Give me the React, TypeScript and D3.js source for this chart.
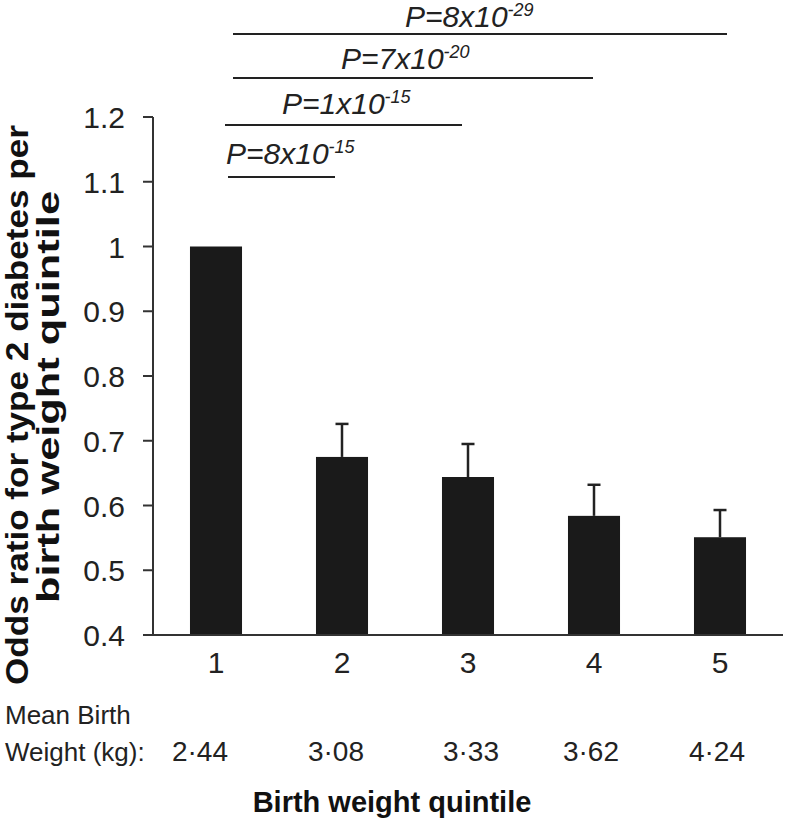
import React from "react";
import * as d3 from "d3";

const quintiles = ["1", "2", "3", "4", "5"];
const oddsRatios = [1.0, 0.675, 0.644, 0.584, 0.551];
const errorUpper = [null, 0.726, 0.695, 0.632, 0.593];
const meanBirthWeights = ["2·44", "3·08", "3·33", "3·62", "4·24"];
const yTicks = [0.4, 0.5, 0.6, 0.7, 0.8, 0.9, 1, 1.1, 1.2];
const yTickLabels = ["0.4", "0.5", "0.6", "0.7", "0.8", "0.9", "1", "1.1", "1.2"];
const pTargets = ["2", "3", "4", "5"];
const pMantissa = ["8", "1", "7", "8"];
const pExponent = ["-15", "-15", "-20", "-29"];

const W = 785;
const H = 824;
const FONT = "'Liberation Sans', Arial, Helvetica, sans-serif";

// annotation layout (pixels)
const annLineY = [177, 125, 78, 34];
const annLineX1 = [228, 225, 233, 233];
const annLineX2 = [335, 462, 593, 727];
const annTextX = [226, 282, 341, 405];
const annTextY = [164, 114, 69, 27];
const weightOffsets = [-16, -6, 3, -3, -3];

export default function App() {
  const x = d3
    .scaleBand<string>()
    .domain(quintiles)
    .range([153, 783])
    .paddingInner(0.587)
    .paddingOuter(0.2935);
  const y = d3.scaleLinear().domain([0.4, 1.2]).range([635, 117]);
  const bw = x.bandwidth();
  const cx = (q: string) => (x(q) as number) + bw / 2;

  return (
    <svg width={W} height={H} style={{ position: "absolute", left: 0, top: 0, background: "#fff" }} fontFamily={FONT}>
      <rect width={W} height={H} fill="#fff" />
      {/* bars */}
      {quintiles.map((q, i) => (
        <rect key={q} x={x(q)} y={y(oddsRatios[i])} width={bw} height={y(0.4) - y(oddsRatios[i])} fill="#1a1a1a" />
      ))}
      {/* error bars */}
      {quintiles.map((q, i) =>
        errorUpper[i] == null ? null : (
          <g key={"e" + q} stroke="#222" strokeWidth={2.5}>
            <line x1={cx(q)} x2={cx(q)} y1={y(oddsRatios[i])} y2={y(errorUpper[i] as number)} />
            <line x1={cx(q) - 6.5} x2={cx(q) + 6.5} y1={y(errorUpper[i] as number)} y2={y(errorUpper[i] as number)} />
          </g>
        )
      )}
      {/* y axis */}
      <line x1={153} x2={153} y1={y(1.2)} y2={y(0.4)} stroke="#333" strokeWidth={2} />
      {yTicks.map((t, i) => (
        <g key={t}>
          <line x1={143} x2={153} y1={y(t)} y2={y(t)} stroke="#333" strokeWidth={2} />
          <text x={125} y={y(t) + 11} textAnchor="end" fontSize={30} fill="#222">
            {yTickLabels[i]}
          </text>
        </g>
      ))}
      {/* x axis */}
      <line x1={153} x2={783} y1={y(0.4)} y2={y(0.4)} stroke="#333" strokeWidth={2} />
      {quintiles.map((q) => (
        <text key={"xl" + q} x={cx(q)} y={673} textAnchor="middle" fontSize={30} fill="#222">
          {q}
        </text>
      ))}
      {/* mean birth weight */}
      <text x={5} y={724} fontSize={26} fill="#222">Mean Birth</text>
      <text x={5} y={761} fontSize={26} fill="#222">Weight (kg):</text>
      {quintiles.map((q, i) => (
        <text key={"w" + q} x={cx(q) + weightOffsets[i]} y={761} textAnchor="middle" fontSize={28} fill="#222">
          {meanBirthWeights[i]}
        </text>
      ))}
      {/* x title */}
      <text x={392} y={812} textAnchor="middle" fontSize={29} fontWeight="bold" fill="#111">
        Birth weight quintile
      </text>
      {/* y title */}
      <g transform="translate(28,405) rotate(-90)">
        <text x={0} y={0} textAnchor="middle" fontSize={32} fontWeight="bold" fill="#111" textLength={560} lengthAdjust="spacingAndGlyphs">
          Odds ratio for type 2 diabetes per
        </text>
        <text x={8} y={31} textAnchor="middle" fontSize={32} fontWeight="bold" fill="#111" textLength={412} lengthAdjust="spacingAndGlyphs">
          birth weight quintile
        </text>
      </g>
      {/* p-value annotations */}
      {pTargets.map((t, i) => (
        <g key={"p" + t}>
          <line x1={annLineX1[i]} x2={annLineX2[i]} y1={annLineY[i]} y2={annLineY[i]} stroke="#222" strokeWidth={2} />
          <text x={annTextX[i]} y={annTextY[i]} fontSize={30} fontStyle="italic" fill="#222">
            {"P=" + pMantissa[i] + "x10"}
            <tspan dy={-11} fontSize={18}>{pExponent[i]}</tspan>
          </text>
        </g>
      ))}
    </svg>
  );
}
